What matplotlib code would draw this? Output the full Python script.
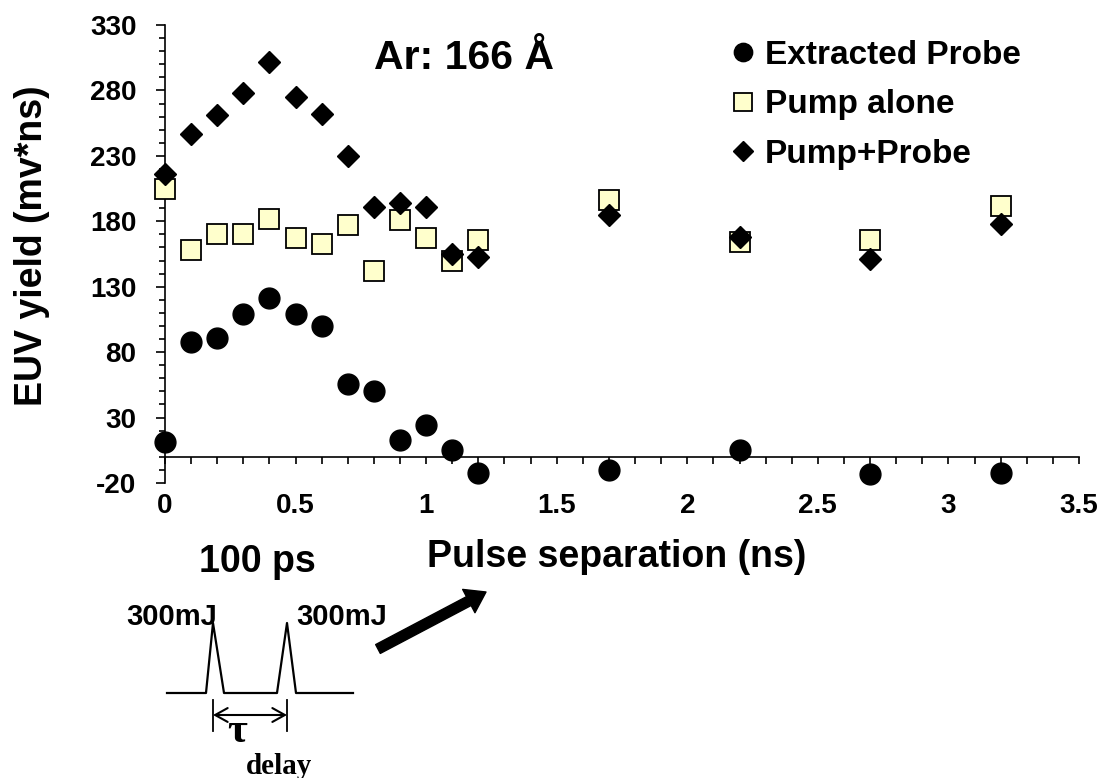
import numpy as np
import matplotlib.pyplot as plt
from matplotlib.lines import Line2D

################################
# Data
################################
sep = [0, 0.1, 0.2, 0.3, 0.4, 0.5, 0.6, 0.7, 0.8, 0.9, 1.0, 1.1, 1.2, 1.7, 2.2, 2.7, 3.2]
extracted_probe = [11, 88, 91, 109, 121, 109, 100, 56, 50, 13, 24, 5, -12, -10, 5, -13, -12]
pump_alone = [205, 158, 170, 170, 182, 167, 163, 177, 142, 181, 167, 150, 166, 196, 164, 166, 192]
pump_probe = [216, 247, 261, 278, 302, 275, 262, 230, 191, 194, 191, 155, 153, 185, 168, 151, 178]

xticks = [0, 0.5, 1, 1.5, 2, 2.5, 3, 3.5]
xtick_labels = ['0', '0.5', '1', '1.5', '2', '2.5', '3', '3.5']
yticks = [-20, 30, 80, 130, 180, 230, 280, 330]

# pulse sketch under the chart, in pixels from top-left
W, H = 1102, 778
pulse_x = [167, 206, 213, 224, 277, 287, 296, 353]
pulse_y = [693, 693, 623, 693, 693, 623, 693, 693]

plt.rcParams['font.family'] = ['Liberation Sans', 'DejaVu Sans']
plt.rcParams['font.weight'] = 'bold'
plt.rcParams['axes.unicode_minus'] = False


def fx(x):
    return x / W


def fy(y):
    return 1 - y / H


fig = plt.figure(figsize=(W / 100, H / 100), dpi=100)
ax = fig.add_axes([165 / W, 1 - 483 / H, 914 / W, 458 / H])

ax.plot(sep, extracted_probe, 'o', color='black', ms=15, clip_on=False, zorder=3, label='Extracted Probe')
ax.plot(sep, pump_alone, 's', mfc='#FFFFCC', mec='black', mew=1.3, ms=14, clip_on=False, zorder=3,
        label='Pump alone')
ax.plot(sep, pump_probe, 'D', color='black', ms=11.5, clip_on=False, zorder=4, label='Pump+Probe')

ax.set_xlim(0, 3.5)
ax.set_ylim(-20, 330)

# axes: y spine on the left, x spine sitting at y = 0
for s in ['top', 'right']:
    ax.spines[s].set_visible(False)
ax.spines['bottom'].set_position(('data', 0))
ax.spines['left'].set_linewidth(1.2)
ax.spines['bottom'].set_linewidth(1.2)

ax.set_xticks(xticks)
ax.set_xticklabels(xtick_labels)
ax.set_xticks(np.arange(0, 3.51, 0.1), minor=True)
ax.set_yticks(yticks)
ax.set_yticks(np.arange(-20, 331, 10), minor=True)

ax.tick_params(axis='x', which='both', direction='out', length=5, width=1.2, labelsize=20, pad=21)
ax.tick_params(axis='y', which='major', direction='out', length=6.5, width=1.2, labelsize=20, pad=14)
ax.tick_params(axis='y', which='minor', direction='out', length=4.3, width=1.2)

ax.set_ylabel('EUV yield (mv*ns)', fontsize=27, fontweight='bold', va='center')
ax.yaxis.set_label_coords((32 - 165) / 914, (483 - 246) / 458)
ax.set_xlabel('Pulse separation (ns)', fontsize=27, fontweight='bold', va='center')
ax.xaxis.set_label_coords((617 - 165) / 914, (483 - 557) / 458)

ax.legend(loc='upper left', bbox_to_anchor=(fx(726), fy(40)), bbox_transform=fig.transFigure,
          frameon=False, fontsize=24, handlelength=1.0, handletextpad=0.17, labelspacing=0.55,
          borderpad=0, borderaxespad=0, markerscale=0.88)

fig.text(fx(464), fy(58), 'Ar: 166 Å', fontsize=29.5, fontweight='bold', ha='center', va='center')

# pulse sketch
fig.text(fx(257), fy(562), '100 ps', fontsize=27, fontweight='bold', ha='center', va='center')
fig.text(fx(172), fy(617), '300mJ', fontsize=21, fontweight='bold', ha='center', va='center')
fig.text(fx(342), fy(617), '300mJ', fontsize=21, fontweight='bold', ha='center', va='center')
fig.add_artist(Line2D([fx(v) for v in pulse_x], [fy(v) for v in pulse_y], color='black', lw=1.6,
                      transform=fig.transFigure))
for xm in [213, 287]:
    fig.add_artist(Line2D([fx(xm), fx(xm)], [fy(700), fy(731)], color='black', lw=1.3,
                          transform=fig.transFigure))
ax.annotate('', xy=(287, H - 715), xytext=(213, H - 715), xycoords='figure pixels',
            textcoords='figure pixels',
            arrowprops=dict(arrowstyle='<->,head_length=0.45,head_width=0.25', color='black', lw=1.5,
                            mutation_scale=20, shrinkA=0, shrinkB=0))
fig.text(fx(237), fy(732), 'τ', fontsize=31, fontweight='bold', ha='center', va='center',
         family=['Liberation Serif', 'DejaVu Serif'])
fig.text(fx(279), fy(766), 'delay', fontsize=21, fontweight='bold', ha='center', va='center',
         family=['Liberation Serif', 'DejaVu Serif'])

# big arrow pointing at the chart
ax.annotate('', xy=(486, H - 592), xytext=(378, H - 649), xycoords='figure pixels',
            textcoords='figure pixels',
            arrowprops=dict(arrowstyle='simple,head_length=0.7,head_width=0.95,tail_width=0.36',
                            color='black', mutation_scale=20, shrinkA=0, shrinkB=0))

fig.savefig('out.png', dpi=100)
